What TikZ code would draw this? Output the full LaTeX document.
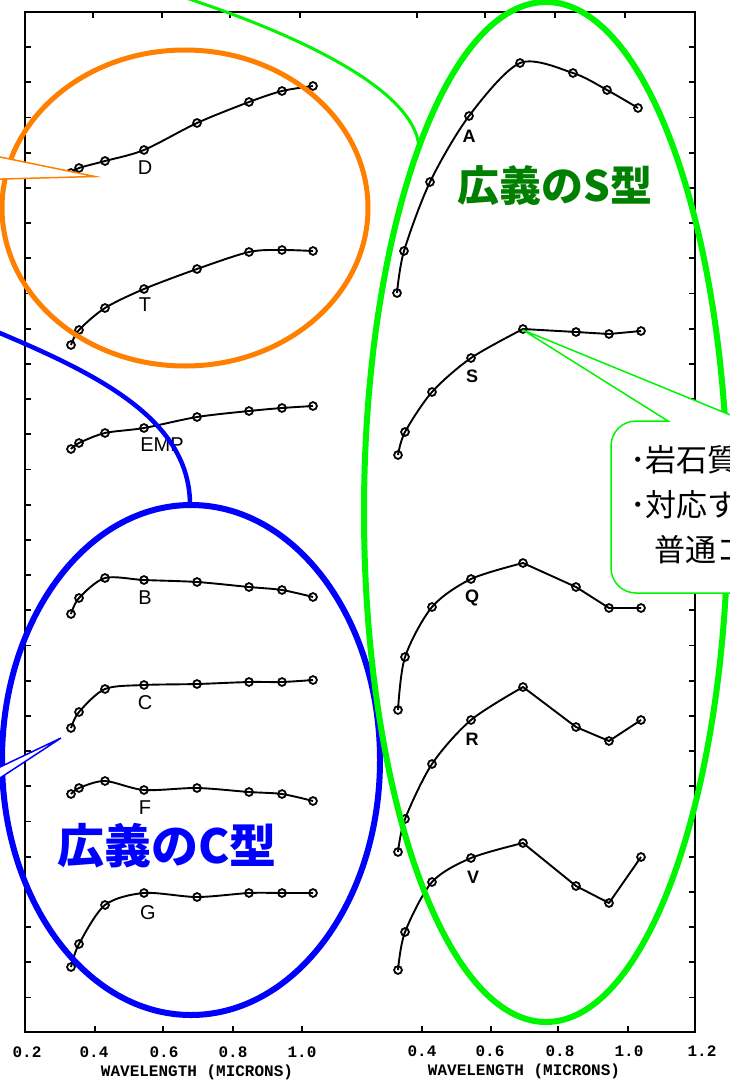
\documentclass[tikz,border=0pt]{standalone}
\usepackage{fontspec}
\setmainfont{Liberation Sans}
\newfontfamily\jpfont{Noto Sans CJK JP}
\newfontfamily\monofont{Liberation Mono}
\definecolor{cOrange}{RGB}{255,128,0}
\definecolor{cBlue}{RGB}{0,0,255}
\definecolor{cGreen}{RGB}{0,245,0}
\definecolor{cDkGreen}{RGB}{0,128,0}
\tikzset{
  axisline/.style={line width=2.2pt,black},
  tickline/.style={line width=1.8pt,black},
  specline/.style={line width=1.9pt,black,line join=round},
  datapt/.style={line width=1.8pt,black},
  typelbl/.style={font=\fontsize{20}{20}\selectfont,inner sep=0pt},
  typelblb/.style={font=\fontsize{18}{18}\selectfont\bfseries,inner sep=0pt},
  ticklbl/.style={font=\monofont\bfseries\fontsize{16}{16}\selectfont,inner sep=0pt},
  axtitle/.style={font=\monofont\bfseries\fontsize{16}{16}\selectfont,inner sep=0pt},
  ovlOrange/.style={draw=cOrange,line width=5pt},
  ovlBlue/.style={draw=cBlue,line width=6pt},
  ovlGreen/.style={draw=cGreen,line width=6pt},
  wedgeO/.style={draw=cOrange,fill=white,line width=1.5pt,line join=miter},
  wedgeB/.style={draw=cBlue,fill=white,line width=1.5pt,line join=miter},
  calloutG/.style={draw=cGreen,fill=white,line width=1.5pt},
  bigtype/.style={font=\jpfont\bfseries,inner sep=0pt},
  calltext/.style={font=\jpfont\fontsize{31}{31}\selectfont,inner sep=0pt,anchor=west},
}
\begin{document}
\begin{tikzpicture}[x=1pt,y=-1pt]
\useasboundingbox (0,0) rectangle (730,1081);
\fill[white] (0,0) rectangle (730,1081);

% frame
\draw[axisline] (25,12) rectangle (695,1032);
\foreach \k in {0,...,27}{
  \draw[tickline] (25,{47+35.2*\k}) -- ++(6,0);
  \draw[tickline] (695,{47+35.2*\k}) -- ++(-6,0);
}
\foreach \x in {95,163,233,302,422,491,558,628}{\draw[tickline] (\x,1032) -- ++(0,-6);}
\foreach \x in {93,162,230,300,417,485,555,625}{\draw[tickline] (\x,12) -- ++(0,6);}

% tick labels
\node[ticklbl] (xl02) at (27,1052) {0.2};
\node[ticklbl] (xl04) at (94,1052) {0.4};
\node[ticklbl] (xl06) at (164,1052) {0.6};
\node[ticklbl] (xl08) at (233,1052) {0.8};
\node[ticklbl] (xl10) at (302,1052) {1.0};
\node[ticklbl] (xr04) at (422,1051) {0.4};
\node[ticklbl] (xr06) at (490,1051) {0.6};
\node[ticklbl] (xr08) at (560,1051) {0.8};
\node[ticklbl] (xr10) at (629,1051) {1.0};
\node[ticklbl] (xr12) at (702,1051) {1.2};
\node[axtitle] (tl) at (197,1072) {WAVELENGTH (MICRONS)};
\node[axtitle] (tr) at (524,1071) {WAVELENGTH (MICRONS)};

% left spectra
\def\LX{{71,79,105,144,197,249,282,313}}
\foreach \ys in {
  {{173,168,161,150,123,102,91,86}},
  {{345,330,308,289,269,252,250,251}},
  {{449,443,433,428,417,411,408,406}},
  {{614,598,578,580,582,587,590,597}},
  {{728,712,689,685,684,682,682,680}},
  {{794,788,781,790,788,792,794,801}},
  {{967,944,905,893,897,893,893,893}}}{
  \draw[specline] plot[smooth,tension=0.5] coordinates {
    ({\LX[0]},{\ys[0]}) ({\LX[1]},{\ys[1]}) ({\LX[2]},{\ys[2]}) ({\LX[3]},{\ys[3]})
    ({\LX[4]},{\ys[4]}) ({\LX[5]},{\ys[5]}) ({\LX[6]},{\ys[6]}) ({\LX[7]},{\ys[7]})};
  \foreach \i in {0,...,7}{\draw[datapt] ({\LX[\i]},{\ys[\i]}) circle (3.9);}
}
% right spectra
\def\RX{{398,405,432,471,523,576,609,641}}
\def\AX{{397,404,430,469,520,573,607,638}}
\def\Ay{{293,251,182,116,63,73,90,108}}
\draw[specline] plot[smooth,tension=0.5] coordinates {
  ({\AX[0]},{\Ay[0]}) ({\AX[1]},{\Ay[1]}) ({\AX[2]},{\Ay[2]}) ({\AX[3]},{\Ay[3]})
  ({\AX[4]},{\Ay[4]}) ({\AX[5]},{\Ay[5]}) ({\AX[6]},{\Ay[6]}) ({\AX[7]},{\Ay[7]})};
\foreach \i in {0,...,7}{\draw[datapt] ({\AX[\i]},{\Ay[\i]}) circle (3.9);}
\foreach \ys in {
  {{455,432,392,358,329,332,334,331}},
  {{710,657,607,579,563,587,608,608}},
  {{852,819,764,720,687,727,741,720}},
  {{970,932,882,858,843,886,903,857}}}{
  \draw[specline] plot[smooth,tension=0.5] coordinates {
    ({\RX[0]},{\ys[0]}) ({\RX[1]},{\ys[1]}) ({\RX[2]},{\ys[2]}) ({\RX[3]},{\ys[3]})
    ({\RX[4]},{\ys[4]})}
    -- ({\RX[5]},{\ys[5]}) -- ({\RX[6]},{\ys[6]}) -- ({\RX[7]},{\ys[7]});
  \foreach \i in {0,...,7}{\draw[datapt] ({\RX[\i]},{\ys[\i]}) circle (3.9);}
}

% type labels
\node[typelbl] (lD) at (145,168) {D};
\node[typelbl] (lT) at (145,305) {T};
\node[typelbl] (lEMP) at (162,445) {EMP};
\node[typelbl] (lB) at (145,598) {B};
\node[typelbl] (lC) at (145,703) {C};
\node[typelbl] (lF) at (145,808) {F};
\node[typelbl] (lG) at (148,913) {G};
\node[typelblb] (lA) at (469,136) {A};
\node[typelblb] (lS) at (472,376) {S};
\node[typelblb] (lQ) at (472,598) {Q};
\node[typelblb] (lR) at (472,739) {R};
\node[typelblb] (lV) at (473,877) {V};

% overlays
\draw[ovlOrange] (185,208) ellipse [x radius=183, y radius=158];
\draw[ovlBlue] (191,760) ellipse [x radius=189, y radius=255];
\draw[ovlGreen] (546,512) ellipse [x radius=182, y radius=510];
\coordinate (gS) at (183,-3);
\coordinate (gE) at (419,148);
\draw[draw=cGreen,line width=3pt] (gS) .. controls (290,32) and (416,88) .. (gE);
\coordinate (bS) at (-5,331);
\coordinate (bE) at (190,505);
\draw[draw=cBlue,line width=4.5pt] (bS) .. controls (100,375) and (190,420) .. (bE);

% callout wedges
\coordinate (oTip) at (95,176.5);
\draw[wedgeO] (-5,156) -- (oTip) -- (-5,179.2);
\coordinate (bTip) at (61,738);
\draw[wedgeB] (-5,769.4) -- (bTip) -- (-5,781.3);

% green callout
\coordinate (gTip) at (523,330);
\draw[calloutG] (gTip) -- (668,421) [rounded corners=25pt] -- (611,421) -- (611,593) -- (800,593) [sharp corners] -- (800,421) -- (745,421) -- cycle;
\node[calltext] (t1) at (630,460) {･岩石質};
\node[calltext] (t2) at (630,505) {･対応する隕石は};
\node[calltext] (t3) at (654,550) {普通コンドライト};

% big labels
\node[bigtype,text=cDkGreen,font=\jpfont\bfseries\fontsize{42}{42}\selectfont] (sType) at (555,186) {広義のS型};
\node[bigtype,text=cBlue,font=\jpfont\bfseries\fontsize{47}{47}\selectfont] (cType) at (167,846) {広義のC型};
\end{tikzpicture}
\end{document}
